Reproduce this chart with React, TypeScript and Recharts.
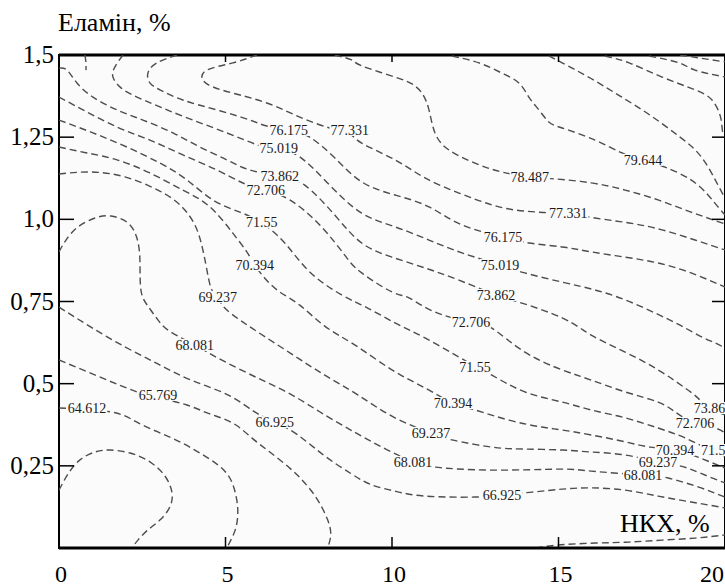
import {
  ComposedChart,
  Line,
  Scatter,
  XAxis,
  YAxis,
  ReferenceArea,
  ReferenceLine,
} from "recharts";

type Pt = [number, number];

// axis ticks
const xTicks = [0, 5, 10, 15, 20];
const yTicks = [0.25, 0.5, 0.75, 1.0, 1.25, 1.5];
const yTickLabels = ["0,25", "0,5", "0,75", "1,0", "1,25", "1,5"];

// contour lines (НКХ %, Еламін %)
const c63456: Pt[] = [[0, 0.176], [0.27, 0.225], [0.63, 0.268], [1.08, 0.292], [1.53, 0.298], [2.13, 0.289], [2.73, 0.262], [3.18, 0.219], [3.39, 0.17], [3.33, 0.125], [3.03, 0.085], [2.67, 0.055], [2.37, 0.024], [2.19, 0]];
const c64612: Pt[] = [[0, 0.426], [1.56, 0.414], [2.28, 0.386], [2.97, 0.353], [3.63, 0.323], [4.23, 0.289], [4.77, 0.253], [5.13, 0.213], [5.31, 0.161], [5.37, 0.11], [5.31, 0.061], [5.16, 0.024], [5.04, 0]];
const c65769: Pt[] = [[0, 0.572], [1.23, 0.52], [2.34, 0.475], [3.03, 0.456], [3.84, 0.435], [4.53, 0.408], [5.22, 0.38], [5.79, 0.335], [6.33, 0.292], [6.93, 0.243], [7.38, 0.198], [7.77, 0.146], [8.07, 0.085], [8.16, 0.04], [8.07, 0]];
const c66925: Pt[] = [[0, 0.733], [0.96, 0.672], [1.98, 0.612], [2.97, 0.56], [3.96, 0.511], [5.07, 0.466], [5.88, 0.414], [6.48, 0.383], [7.17, 0.344], [7.98, 0.28], [8.79, 0.225], [9.39, 0.192], [10.09, 0.173], [10.99, 0.158], [12.49, 0.155], [13.3, 0.161], [14.2, 0.17], [15.11, 0.179], [15.98, 0.183], [17.0, 0.176], [17.99, 0.158], [18.98, 0.14], [20, 0.122]];
const c68081: Pt[] = [[0, 0.901], [0.21, 0.937], [0.57, 0.977], [1.08, 1.004], [1.56, 1.01], [2.07, 0.989], [2.34, 0.943], [2.43, 0.876], [2.46, 0.785], [2.67, 0.736], [2.97, 0.694], [3.36, 0.657], [4.08, 0.618], [4.77, 0.578], [5.97, 0.517], [6.99, 0.466], [7.98, 0.405], [8.97, 0.347], [9.87, 0.298], [10.63, 0.262], [11.29, 0.246], [13.0, 0.237], [15.02, 0.24], [15.98, 0.234], [17.54, 0.222], [18.29, 0.213], [19.19, 0.186], [20, 0.155]];
const c69237: Pt[] = [[0, 1.138], [0.96, 1.144], [1.98, 1.129], [2.97, 1.089], [3.63, 1.044], [4.08, 0.983], [4.32, 0.907], [4.47, 0.831], [4.59, 0.785], [4.77, 0.761], [4.98, 0.73], [5.43, 0.694], [5.97, 0.657], [6.99, 0.59], [7.98, 0.526], [8.97, 0.466], [10.09, 0.396], [11.17, 0.35], [11.8, 0.329], [13.0, 0.307], [13.99, 0.301], [15.11, 0.298], [15.98, 0.292], [17.0, 0.283], [17.99, 0.262], [18.68, 0.249], [19.25, 0.228], [20, 0.198]];
const c70394: Pt[] = [[0, 1.22], [0.84, 1.202], [1.74, 1.181], [2.73, 1.141], [3.72, 1.089], [4.53, 1.038], [5.22, 0.958], [5.64, 0.901], [5.88, 0.861], [6.18, 0.821], [6.63, 0.779], [7.23, 0.739], [7.98, 0.675], [8.88, 0.618], [10.0, 0.542], [10.99, 0.487], [11.83, 0.441], [12.49, 0.42], [13.51, 0.389], [14.5, 0.368], [15.11, 0.359], [15.98, 0.344], [17.0, 0.323], [17.75, 0.307], [18.5, 0.298], [19.25, 0.274], [20, 0.243]];
const c71550: Pt[] = [[0, 1.302], [1.02, 1.263], [2.04, 1.22], [3.03, 1.171], [3.84, 1.12], [4.62, 1.059], [5.43, 1.022], [6.09, 0.989], [6.78, 0.928], [7.53, 0.84], [8.49, 0.77], [9.27, 0.73], [10.09, 0.685], [10.99, 0.639], [12.01, 0.581], [12.49, 0.554], [13.0, 0.526], [13.99, 0.475], [15.11, 0.444], [15.98, 0.42], [17.0, 0.396], [17.99, 0.365], [18.8, 0.335], [19.55, 0.298], [20, 0.28]];
const c72706: Pt[] = [[0, 1.372], [0.72, 1.333], [1.74, 1.281], [2.73, 1.241], [3.72, 1.196], [4.74, 1.15], [5.58, 1.108], [6.21, 1.089], [6.93, 1.059], [7.83, 0.983], [8.58, 0.891], [9.09, 0.837], [10.0, 0.779], [10.51, 0.761], [11.29, 0.718], [12.37, 0.688], [13.0, 0.669], [13.99, 0.596], [15.11, 0.542], [15.98, 0.511], [17.0, 0.475], [17.99, 0.444], [18.5, 0.414], [19.1, 0.38], [19.7, 0.365], [20, 0.35]];
const c73862: Pt[] = [[0, 1.46], [0.24, 1.454], [0.54, 1.415], [1.02, 1.372], [1.74, 1.333], [2.52, 1.302], [3.42, 1.263], [4.23, 1.22], [5.04, 1.181], [5.73, 1.15], [6.63, 1.132], [7.38, 1.104], [8.28, 1.013], [9.09, 0.928], [10.0, 0.885], [10.99, 0.852], [12.01, 0.815], [13.12, 0.77], [13.81, 0.748], [15.11, 0.7], [15.98, 0.648], [17.0, 0.596], [17.99, 0.542], [18.8, 0.487], [19.19, 0.456], [19.52, 0.426], [20, 0.405]];
const c75019: Pt[] = [[1.92, 1.5], [1.68, 1.464], [1.62, 1.433], [1.83, 1.403], [2.22, 1.378], [3.03, 1.342], [4.02, 1.302], [5.04, 1.263], [5.97, 1.226], [6.6, 1.211], [7.23, 1.19], [8.13, 1.104], [9.09, 1.019], [10.09, 0.977], [11.11, 0.937], [12.1, 0.898], [13.24, 0.861], [13.99, 0.837], [15.11, 0.809], [16.1, 0.785], [17.0, 0.755], [17.9, 0.715], [18.65, 0.678], [19.25, 0.645], [19.7, 0.624], [20, 0.609]];
const c76175: Pt[] = [[3.54, 1.5], [2.94, 1.476], [2.67, 1.445], [2.73, 1.415], [3.03, 1.394], [3.72, 1.363], [4.74, 1.333], [5.73, 1.302], [6.24, 1.284], [6.9, 1.272], [7.53, 1.25], [8.28, 1.187], [9.09, 1.114], [10.09, 1.074], [11.11, 1.038], [12.1, 0.983], [13.33, 0.946], [14.11, 0.928], [15.11, 0.916], [15.98, 0.901], [17.0, 0.885], [17.99, 0.867], [18.98, 0.837], [20, 0.794]];
const c77331: Pt[] = [[5.94, 1.5], [5.22, 1.476], [4.44, 1.454], [4.32, 1.424], [4.62, 1.403], [5.22, 1.384], [6.24, 1.354], [7.23, 1.311], [8.13, 1.278], [8.73, 1.26], [9.09, 1.232], [10.09, 1.181], [10.99, 1.126], [12.01, 1.08], [13.0, 1.044], [13.99, 1.025], [15.29, 1.016], [16.1, 1.004], [17.12, 0.989], [18.11, 0.968], [19.1, 0.937], [20, 0.907]];
const c78487: Pt[] = [[8.28, 1.5], [8.79, 1.485], [9.09, 1.467], [10.09, 1.433], [10.6, 1.412], [10.9, 1.384], [11.11, 1.333], [11.29, 1.263], [11.71, 1.211], [12.49, 1.171], [13.3, 1.144], [14.14, 1.129], [14.89, 1.123], [15.98, 1.111], [17.0, 1.089], [17.99, 1.059], [18.98, 1.022], [20, 0.986]];
const c79644: Pt[] = [[11.8, 1.497], [12.61, 1.476], [13.3, 1.445], [13.81, 1.415], [14.11, 1.372], [14.41, 1.333], [14.71, 1.296], [15.11, 1.278], [16.1, 1.241], [16.91, 1.202], [17.54, 1.181], [18.2, 1.159], [18.98, 1.12], [19.49, 1.074], [19.79, 1.038], [20, 1.013]];
const c80800: Pt[] = [[14.71, 1.497], [15.11, 1.476], [15.95, 1.43], [16.85, 1.375], [17.75, 1.317], [18.65, 1.25], [19.31, 1.187], [19.79, 1.104], [20, 1.065]];
const c81956: Pt[] = [[16.4, 1.497], [17.12, 1.476], [18.11, 1.433], [19.1, 1.394], [19.61, 1.363], [19.85, 1.317], [19.91, 1.281], [19.94, 1.257]];
const c83112: Pt[] = [[17.72, 1.497], [18.62, 1.476], [19.1, 1.454], [20, 1.433]];
const c84269: Pt[] = [[18.65, 1.5], [20, 1.479]];
const cCorner: Pt[] = [[0.78, 1.5], [0.81, 1.476], [0.81, 1.454]];
const cBottom: Pt[] = [[14.32, 0], [14.98, 0.009], [16.1, 0.015], [17.12, 0.018], [18.11, 0.024], [19.1, 0.03], [20, 0.04]];

const contours: Pt[][] = [
  c63456, c64612, c65769, c66925, c68081, c69237, c70394, c71550, c72706,
  c73862, c75019, c76175, c77331, c78487, c79644, c80800, c81956, c83112,
  c84269, cCorner, cBottom,
];

// contour labels [x, y, text]
const contourLabels: [number, number, string][] = [
  [0.84, 0.426, "64.612"],
  [2.97, 0.466, "65.769"],
  [6.48, 0.383, "66.925"],
  [13.3, 0.161, "66.925"],
  [4.08, 0.618, "68.081"],
  [10.63, 0.262, "68.081"],
  [17.54, 0.222, "68.081"],
  [4.77, 0.764, "69.237"],
  [11.17, 0.35, "69.237"],
  [17.99, 0.262, "69.237"],
  [5.88, 0.861, "70.394"],
  [11.83, 0.441, "70.394"],
  [18.5, 0.298, "70.394"],
  [6.09, 0.992, "71.55"],
  [12.49, 0.551, "71.55"],
  [19.75, 0.298, "71.55"],
  [6.21, 1.089, "72.706"],
  [12.37, 0.688, "72.706"],
  [19.1, 0.38, "72.706"],
  [6.63, 1.132, "73.862"],
  [13.12, 0.77, "73.862"],
  [19.64, 0.426, "73.862"],
  [6.6, 1.217, "75.019"],
  [13.24, 0.861, "75.019"],
  [6.9, 1.272, "76.175"],
  [13.33, 0.946, "76.175"],
  [8.73, 1.272, "77.331"],
  [15.29, 1.019, "77.331"],
  [14.14, 1.129, "78.487"],
  [17.54, 1.181, "79.644"],
];

const SERIF = '"Liberation Serif", "Times New Roman", serif';
const PLOT_TOP = 55;
const PLOT_RIGHT = 725;
const PLOT_BG = "#fbfbfb";

const XTick = (props: any) => {
  const { x, y, payload } = props;
  const v = payload.value;
  const inner = v > 0 && v < 20;
  const last = v === 20;
  return (
    <g>
      {inner && <line x1={x} x2={x} y1={y} y2={y - 11} stroke="#000" strokeWidth={1.5} />}
      {inner && <line x1={x} x2={x} y1={PLOT_TOP} y2={PLOT_TOP + 7} stroke="#000" strokeWidth={1.5} />}
      <text
        x={last ? 724 : x + 2}
        y={y + 34}
        textAnchor={last ? "end" : "middle"}
        fontSize={24}
        fontFamily={SERIF}
        fill="#000"
      >
        {v}
      </text>
    </g>
  );
};

const YTick = (props: any) => {
  const { x, y, payload } = props;
  const i = yTicks.indexOf(payload.value);
  const top = payload.value === 1.5;
  return (
    <g>
      {!top && <line x1={x} x2={x + 15} y1={y} y2={y} stroke="#000" strokeWidth={1.5} />}
      {!top && <line x1={PLOT_RIGHT - 13} x2={PLOT_RIGHT} y1={y} y2={y} stroke="#000" strokeWidth={1.5} />}
      <text x={x - 5} y={y + 8} textAnchor="end" fontSize={25} fontFamily={SERIF} fill="#000">
        {yTickLabels[i]}
      </text>
    </g>
  );
};

const ContourLabel = (props: any) => {
  const { cx, cy, payload } = props;
  const text: string = payload.text;
  const w = (text.length - 1) * 7 + 3.5;
  return (
    <g>
      <rect x={cx - w / 2 - 1} y={cy - 6} width={w + 2} height={12} fill={PLOT_BG} />
      <text
        x={cx}
        y={cy + 5}
        textAnchor="middle"
        fontSize={14}
        fontFamily={SERIF}
        fill="#1a1a1a"
      >
        {text}
      </text>
    </g>
  );
};

export default function App() {
  const labelData = contourLabels.map(([x, y, text]) => ({ x, y, text }));
  return (
    <div
      style={{
        position: "absolute",
        left: 0,
        top: 0,
        width: 725,
        height: 584,
        background: "#fff",
        overflow: "hidden",
      }}
    >
      <ComposedChart width={725} height={584} margin={{ top: PLOT_TOP, right: 0, bottom: 0, left: 0 }}>
        <XAxis
          type="number"
          dataKey="x"
          domain={[0, 20]}
          ticks={xTicks}
          interval={0}
          height={36}
          allowDataOverflow
          axisLine={{ stroke: "#000", strokeWidth: 3 }}
          tickLine={false}
          tickSize={0}
          tickMargin={0}
          tick={<XTick />}
        />
        <YAxis
          type="number"
          dataKey="y"
          domain={[0, 1.5]}
          ticks={yTicks}
          interval={0}
          width={59}
          allowDataOverflow
          axisLine={false}
          tickLine={false}
          tickSize={0}
          tickMargin={0}
          tick={<YTick />}
        />
        <ReferenceArea
          x1={0}
          x2={20}
          y1={0}
          y2={1.5}
          fill={PLOT_BG}
          fillOpacity={1}
          stroke="#000"
          strokeWidth={2}
        />
        <ReferenceLine y={1.5} stroke="#000" strokeWidth={3} />
        {contours.map((pts, i) => (
          <Line
            key={i}
            data={pts.map(([x, y]) => ({ x, y }))}
            dataKey="y"
            type="natural"
            stroke="#4d4d4d"
            strokeWidth={1.4}
            strokeDasharray="7 4"
            dot={false}
            activeDot={false}
            isAnimationActive={false}
          />
        ))}
        <Scatter data={labelData} dataKey="y" shape={<ContourLabel />} isAnimationActive={false} />
      </ComposedChart>
      <div
        style={{
          position: "absolute",
          left: 58,
          top: 10,
          fontFamily: SERIF,
          fontSize: 26,
          lineHeight: 1,
          color: "#000",
          whiteSpace: "nowrap",
        }}
      >
        Еламін, %
      </div>
      <div
        style={{
          position: "absolute",
          left: 620,
          top: 511,
          fontFamily: SERIF,
          fontSize: 26,
          lineHeight: 1,
          color: "#000",
          whiteSpace: "nowrap",
        }}
      >
        НКХ, %
      </div>
    </div>
  );
}
